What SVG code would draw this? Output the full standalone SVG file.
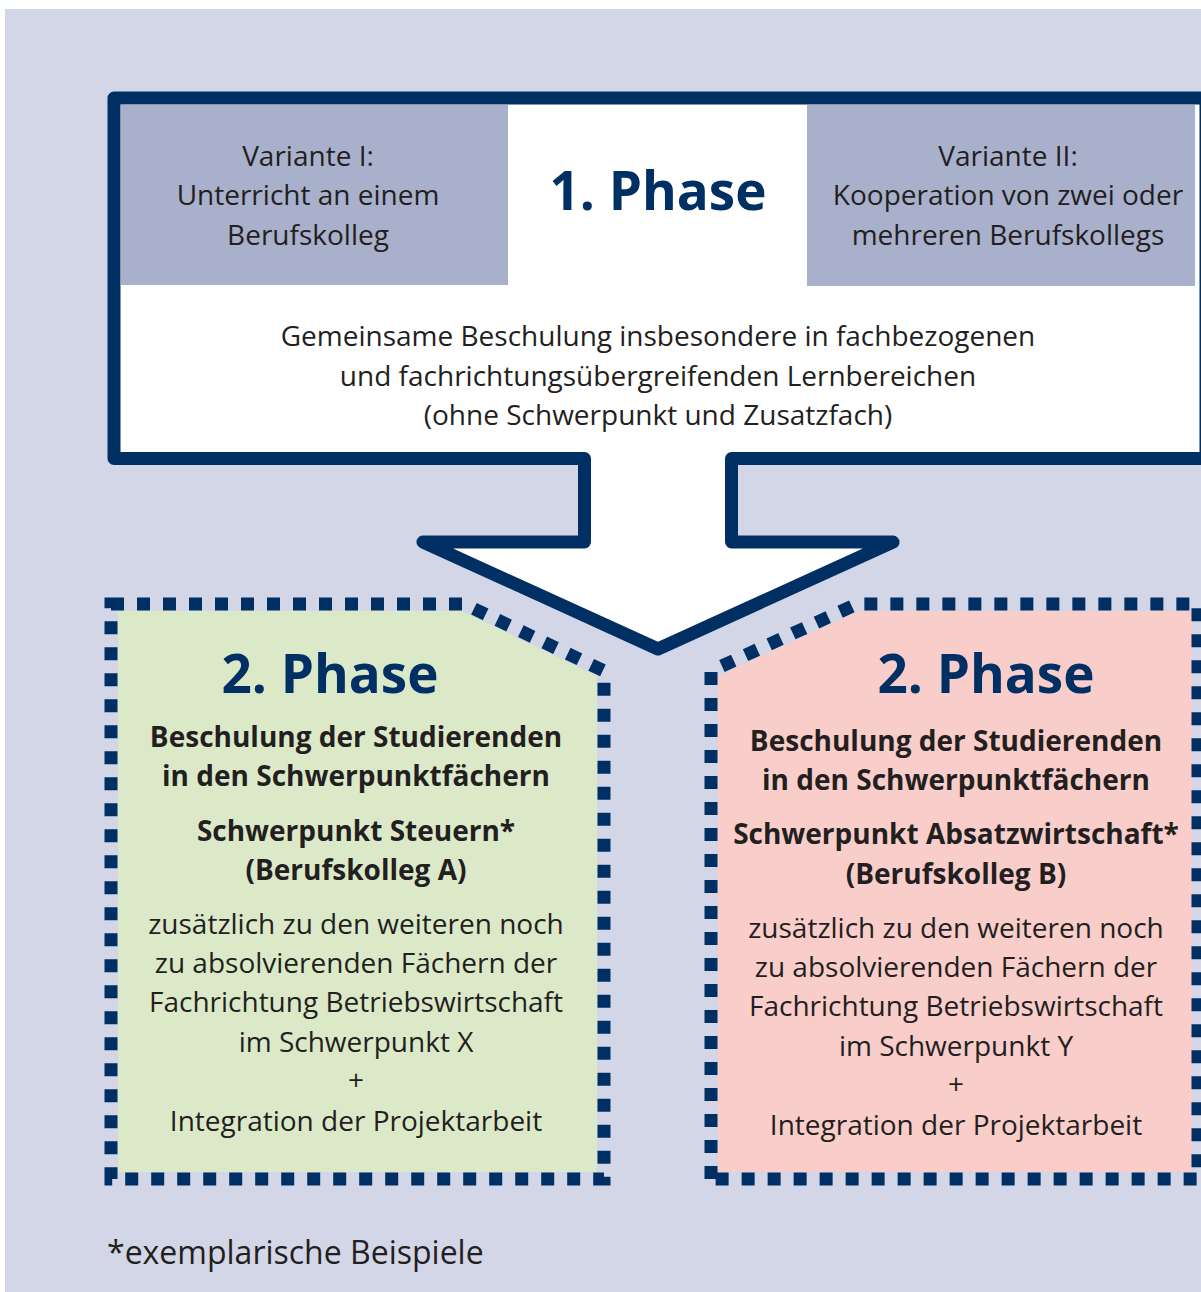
<svg xmlns="http://www.w3.org/2000/svg" width="1201" height="1292" viewBox="0 0 1201 1292">
<style>
text{font-family:"Open Sans","Noto Sans","Liberation Sans",sans-serif;fill:#231f20;text-anchor:middle}
.r{font-size:28px}
.b{font-size:28px;font-weight:bold}
.h{font-size:53px;font-weight:bold;fill:#003063}
.dot{fill:none;stroke:#003063;stroke-width:13;stroke-dasharray:13 13}
</style>
<rect x="0" y="0" width="1201" height="1292" fill="#ffffff"/>
<rect x="5" y="9" width="1196" height="1283" fill="#d3d6e7"/>
<g id="connectors"></g>
<g id="phase1">
<path d="M114,98 L1206,98 L1206,458.5 L731.5,458.5 L731.5,542 L893,542 L658,649 L423,542 L584.5,542 L584.5,458.5 L114,458.5 Z" fill="#ffffff" stroke="#003063" stroke-width="13" stroke-linejoin="round"/>
<g id="variante1">
<rect x="121" y="105" width="387" height="180" fill="#a8b0cc"/>
<text class="r" x="308" y="166">Variante I:</text>
<text class="r" x="308" y="205">Unterricht an einem</text>
<text class="r" x="308" y="245">Berufskolleg</text>
</g>
<g id="variante2">
<rect x="807" y="105" width="388" height="181" fill="#a8b0cc"/>
<text class="r" x="1008" y="166">Variante II:</text>
<text class="r" x="1008" y="205">Kooperation von zwei oder</text>
<text class="r" x="1008" y="245">mehreren Berufskollegs</text>
</g>
<text class="h" x="658" y="210">1. Phase</text>
<text class="r" x="658" y="346">Gemeinsame Beschulung insbesondere in fachbezogenen</text>
<text class="r" x="658" y="386">und fachrichtungsübergreifenden Lernbereichen</text>
<text class="r" x="658" y="425">(ohne Schwerpunkt und Zusatzfach)</text>
</g>
<g id="phase2a">
<path d="M118,611 L462,611 L597,676 L597,1172 L118,1172 Z" fill="#dce9c8"/>
<path class="dot" d="M111,604 L464,604 L604,671 L604,1179 L111,1179 Z"/>
<text class="h" x="330" y="693">2. Phase</text>
<text class="b" x="356" y="747">Beschulung der Studierenden</text>
<text class="b" x="356" y="786">in den Schwerpunktfächern</text>
<text class="b" x="356" y="841">Schwerpunkt Steuern*</text>
<text class="b" x="356" y="880">(Berufskolleg A)</text>
<text class="r" x="356" y="934">zusätzlich zu den weiteren noch</text>
<text class="r" x="356" y="973">zu absolvierenden Fächern der</text>
<text class="r" x="356" y="1012">Fachrichtung Betriebswirtschaft</text>
<text class="r" x="356" y="1052">im Schwerpunkt X</text>
<text class="r" x="356" y="1090">+</text>
<text class="r" x="356" y="1131">Integration der Projektarbeit</text>
</g>
<g id="phase2b">
<path d="M718,676 L859,611 L1192,611 L1192,1172 L718,1172 Z" fill="#f8cdca"/>
<path class="dot" d="M711,1179 L711,671 L857,604 L1198,604 L1198,1179 Z"/>
<text class="h" x="986" y="693">2. Phase</text>
<text class="b" x="956" y="751">Beschulung der Studierenden</text>
<text class="b" x="956" y="790">in den Schwerpunktfächern</text>
<text class="b" x="956" y="844">Schwerpunkt Absatzwirtschaft*</text>
<text class="b" x="956" y="884">(Berufskolleg B)</text>
<text class="r" x="956" y="938">zusätzlich zu den weiteren noch</text>
<text class="r" x="956" y="977">zu absolvierenden Fächern der</text>
<text class="r" x="956" y="1016">Fachrichtung Betriebswirtschaft</text>
<text class="r" x="956" y="1056">im Schwerpunkt Y</text>
<text class="r" x="956" y="1094">+</text>
<text class="r" x="956" y="1135">Integration der Projektarbeit</text>
</g>
<text x="107" y="1264" style="font-size:32px;text-anchor:start">*exemplarische Beispiele</text>
</svg>
